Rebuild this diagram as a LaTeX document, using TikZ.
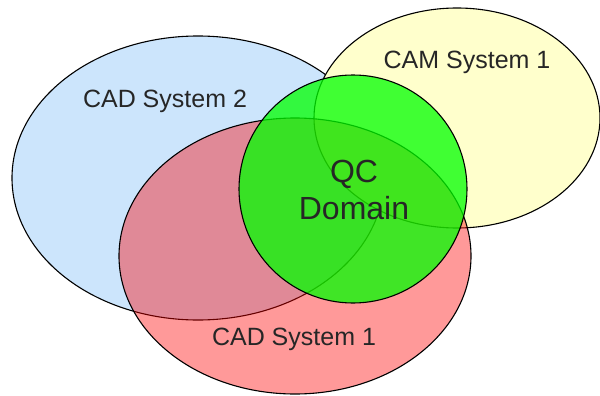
\documentclass[tikz,border=0pt]{standalone}
\usepackage{fontspec}
\setmainfont{Liberation Sans}
\begin{document}
\begin{tikzpicture}[x=1pt,y=-1pt,
  setshape/.style={draw=black, line width=1.1pt},
  lbl/.style={anchor=base, text=black!85, font=\fontsize{25}{30}\selectfont, inner sep=0pt},
  biglbl/.style={anchor=base, text=black!85, font=\fontsize{32}{37}\selectfont, inner sep=0pt}]
\useasboundingbox (0,0) rectangle (600,396);
\definecolor{cadtwo}{HTML}{CCE5FC}
\definecolor{camone}{HTML}{FFFFCC}
\definecolor{cadone}{HTML}{FF0000}
\definecolor{qcgreen}{HTML}{00FF00}
% CAD System 2
\path[setshape, fill=cadtwo] (198,178) ellipse [x radius=186, y radius=142];
% CAM System 1
\path[setshape, fill=camone] (457,118) ellipse [x radius=143, y radius=110];
% CAD System 1
\path[setshape, fill=cadone, fill opacity=0.4] (295,256) ellipse [x radius=176, y radius=138];
% QC Domain
\path[setshape, fill=qcgreen, fill opacity=0.75] (353,189) circle [radius=114];
\node[lbl] (cad2) at (165,107) {CAD System 2};
\node[lbl] (cam1) at (467,69) {CAM System 1};
\node[lbl] (cad1) at (294,345) {CAD System 1};
\node[biglbl] (qc) at (354,182) {QC};
\node[biglbl] (dom) at (354,219) {Domain};
\end{tikzpicture}
\end{document}
